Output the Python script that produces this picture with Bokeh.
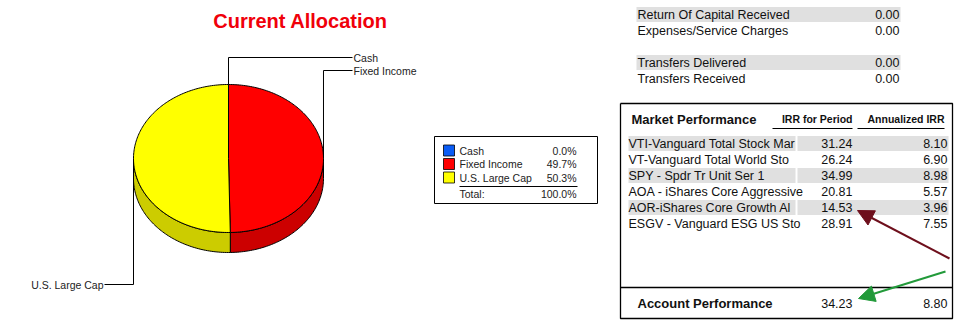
import numpy as np
from bokeh.plotting import figure
from bokeh.models import Range1d, Arrow, NormalHead
from bokeh.core.properties import value
from bokeh.embed import file_html
from bokeh.resources import INLINE

# ---------------- data ----------------
alloc_names = ["Cash", "Fixed Income", "U.S. Large Cap"]
alloc_pct = [0.0, 49.7, 50.3]
alloc_total_label = "Total:"
alloc_colors = ["#0A5CF5", "#FF0000", "#FFFF00"]
alloc_side_colors = ["#0846BB", "#CC0000", "#CCCC00"]

summary_labels = ["Return Of Capital Received", "Expenses/Service Charges",
                  "Transfers Delivered", "Transfers Received"]
summary_values = [0.00, 0.00, 0.00, 0.00]

fund_names = ["VTI-Vanguard Total Stock Mar", "VT-Vanguard Total World Sto",
              "SPY - Spdr Tr Unit Ser 1", "AOA - iShares Core Aggressive",
              "AOR-iShares Core Growth Al", "ESGV - Vanguard ESG US Sto"]
irr_period = [31.24, 26.24, 34.99, 20.81, 14.53, 28.91]
irr_annual = [8.10, 6.90, 8.98, 5.57, 3.96, 7.55]
account_label = "Account Performance"
account_irr = 34.23
account_annual = 8.80

W, H = 969, 325
p = figure(width=W, height=H, x_range=Range1d(0, W), y_range=Range1d(H, 0),
           output_backend="svg", toolbar_location=None, min_border=0,
           x_axis_location=None, y_axis_location=None)
p.grid.visible = False
p.outline_line_color = None
p.background_fill_color = "white"
p.border_fill_color = "white"

SANS = value("Liberation Sans")
TAB = value("Liberation Sans")

# ---------------- title ----------------
p.text(x=[300], y=[20], text=["Current Allocation"], text_font=SANS,
       text_font_size="20px", text_font_style="bold", text_color="#F0000A",
       text_align="center", text_baseline="middle")

# ---------------- pie ----------------
cx, cy, rx, ry, depth = 228, 158, 95, 74, 20
fr = np.array(alloc_pct) / 100.0
ends = np.cumsum(fr) * 2 * np.pi
starts = ends - fr * 2 * np.pi

def pt(t, dy=0.0):
    return cx + rx * np.sin(t), cy - ry * np.cos(t) + dy

side_xs, side_ys, side_c = [], [], []
for s, e, c in zip(starts, ends, alloc_side_colors):
    a, b = max(s, np.pi / 2), min(e, 3 * np.pi / 2)
    if b > a:
        t = np.linspace(a, b, 80)
        x1, y1 = pt(t)
        x2, y2 = pt(t[::-1], depth)
        side_xs.append(np.concatenate([x1, x2]).tolist())
        side_ys.append(np.concatenate([y1, y2]).tolist())
        side_c.append(c)
p.patches(side_xs, side_ys, fill_color=side_c, line_color="black", line_width=1)

top_xs, top_ys, top_c = [], [], []
for s, e, c in zip(starts, ends, alloc_colors):
    if e > s:
        t = np.linspace(s, e, 160)
        x1, y1 = pt(t)
        top_xs.append([cx] + x1.tolist())
        top_ys.append([cy] + y1.tolist())
        top_c.append(c)
p.patches(top_xs, top_ys, fill_color=top_c, line_color="black", line_width=1)

# leader lines and labels
label_y = [57, 70, 284]
lx_right, lx_left = 352, 104
mids = (starts + ends) / 2
lead_xs, lead_ys, lab_x, lab_y, lab_align = [], [], [], [], []
for m, ly in zip(mids, label_y):
    ax, ay = pt(m)
    if m < np.pi:
        lead_xs.append([ax, ax, lx_right]); lead_ys.append([ay, ly, ly])
        lab_x.append(lx_right + 1); lab_align.append("left")
    else:
        lead_xs.append([ax, ax, lx_left]); lead_ys.append([ay, ly, ly])
        lab_x.append(lx_left - 1); lab_align.append("right")
    lab_y.append(ly)
p.multi_line(lead_xs, lead_ys, line_color="black", line_width=1)
p.text(x=lab_x, y=lab_y, text=alloc_names, text_align=lab_align,
       text_baseline="middle", text_font=SANS, text_font_size="10.5px",
       text_color="#222222")

# legend box
p.quad(left=[434], right=[597], top=[136], bottom=[203], fill_color="white",
       line_color="black", line_width=1)
leg_y = [150, 163.5, 177]
p.rect(x=[448.5] * 3, y=leg_y, width=11, height=11, fill_color=alloc_colors,
       line_color="black", line_width=0.8)
p.text(x=[459] * 3, y=leg_y, text=alloc_names, text_font=SANS,
       text_font_size="10.5px", text_baseline="middle", text_color="#222222")
p.text(x=[576] * 3, y=leg_y, text=[f"{v:.1f}%" for v in alloc_pct],
       text_font=SANS, text_font_size="10.5px", text_baseline="middle",
       text_align="right", text_color="#222222")
p.segment(x0=[459], y0=[186], x1=[577], y1=[186], line_color="black", line_width=1)
p.text(x=[459], y=[193.5], text=[alloc_total_label], text_font=SANS,
       text_font_size="10.5px", text_baseline="middle", text_color="#222222")
p.text(x=[576], y=[193.5], text=[f"{sum(alloc_pct):.1f}%"], text_font=SANS,
       text_font_size="10.5px", text_baseline="middle", text_align="right",
       text_color="#222222")

# ---------------- summary table ----------------
sum_slots = [0, 1, 3, 4]
sum_y = [14 + 16 * s for s in sum_slots]
band_y = [y for i, y in enumerate(sum_y) if i % 2 == 0]
p.rect(x=[768] * len(band_y), y=band_y, width=264, height=15,
       fill_color="#E0E0E0", line_color=None)
p.text(x=[637] * 4, y=sum_y, text=summary_labels, text_font=TAB,
       text_font_size="12.5px", text_baseline="middle", text_color="#111111")
p.text(x=[899] * 4, y=sum_y, text=[f"{v:.2f}" for v in summary_values],
       text_font=TAB, text_font_size="12.5px", text_baseline="middle",
       text_align="right", text_color="#111111")

# ---------------- market performance ----------------
box_l, box_r, box_t, box_b, box_div = 620, 952, 103, 318, 287
p.multi_line(xs=[[box_l, box_r, box_r, box_l, box_l], [box_l, box_r]],
             ys=[[box_t, box_t, box_b, box_b, box_t], [box_div, box_div]],
             line_color="black", line_width=1.3)
p.text(x=[631], y=[119], text=["Market Performance"], text_font=TAB,
       text_font_size="13px", text_font_style="bold", text_baseline="middle",
       text_color="#111111")
p.text(x=[852, 944], y=[118, 118], text=["IRR for Period", "Annualized IRR"],
       text_font=TAB, text_font_size="10.5px", text_font_style="bold",
       text_baseline="middle", text_align="right", text_color="#111111")
p.segment(x0=[772, 857], y0=[128, 128], x1=[852, 944], y1=[128, 128],
          line_color="black", line_width=1)

row_y = [143 + 16 * i for i in range(len(fund_names))]
shade = [y for i, y in enumerate(row_y) if i % 2 == 0]
p.quad(left=[628] * len(shade), right=[795] * len(shade),
       top=[y - 7.5 for y in shade], bottom=[y + 7.5 for y in shade],
       fill_color="#E0E0E0", line_color=None)
p.quad(left=[797] * len(shade), right=[948] * len(shade),
       top=[y - 7.5 for y in shade], bottom=[y + 7.5 for y in shade],
       fill_color="#E0E0E0", line_color=None)
p.text(x=[628] * len(fund_names), y=row_y, text=fund_names, text_font=TAB,
       text_font_size="12.5px", text_baseline="middle", text_color="#111111")
p.text(x=[852] * len(fund_names), y=row_y, text=[f"{v:.2f}" for v in irr_period],
       text_font=TAB, text_font_size="12.5px", text_baseline="middle",
       text_align="right", text_color="#111111")
p.text(x=[947] * len(fund_names), y=row_y, text=[f"{v:.2f}" for v in irr_annual],
       text_font=TAB, text_font_size="12.5px", text_baseline="middle",
       text_align="right", text_color="#111111")

p.text(x=[637], y=[302.5], text=[account_label], text_font=TAB,
       text_font_size="13px", text_font_style="bold", text_baseline="middle",
       text_color="#111111")
p.text(x=[852, 947], y=[302.5, 302.5],
       text=[f"{account_irr:.2f}", f"{account_annual:.2f}"], text_font=TAB,
       text_font_size="12.5px", text_baseline="middle", text_align="right",
       text_color="#111111")

# arrows
p.add_layout(Arrow(x_start=949, y_start=258, x_end=857, y_end=210,
                   line_color="#6E0F1C", line_width=2,
                   end=NormalHead(size=16, fill_color="#6E0F1C", line_color="#6E0F1C")))
p.add_layout(Arrow(x_start=945, y_start=271, x_end=858, y_end=298,
                   line_color="#229A3A", line_width=2,
                   end=NormalHead(size=16, fill_color="#229A3A", line_color="#229A3A")))

open("out.html", "w").write(file_html(p, INLINE))
